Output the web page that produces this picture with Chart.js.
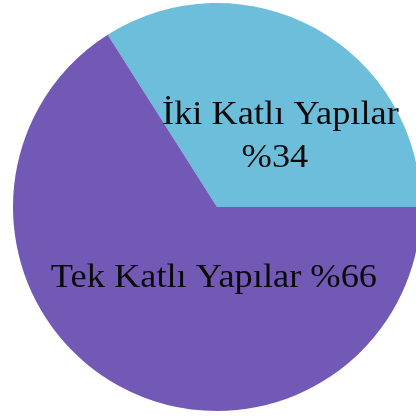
<!DOCTYPE html>
<html>
<head>
<meta charset="utf-8">
<script src="https://cdn.jsdelivr.net/npm/chart.js@4"></script>
<style>
    html, body { margin: 0; padding: 0; background: #fff; overflow: hidden; }
    #wrap { position: relative; width: 430px; height: 417px; }
</style>
</head>
<body>
<div id="wrap"><canvas id="chart"></canvas></div>
<script>
const labels = ['İki Katlı Yapılar', 'Tek Katlı Yapılar'];
const values = [34, 66];
const colors = ['#6cbedb', '#7159b5'];
// text lines per slice, drawn inside the pie
const sliceText = [['İki Katlı Yapılar', '%34'], ['Tek Katlı Yapılar %66']];

// label anchors relative to the pie centre, in units of the radius
const textSpots = [
    [[0.311, -0.407], [0.284, -0.196]],
    [[-0.015, 0.392]],
];

const sliceLabels = {
    id: 'sliceLabels',
    afterDatasetsDraw(chart) {
        const arc = chart.getDatasetMeta(0).data[0];
        const { x, y, outerRadius: r } = arc;
        const ctx = chart.ctx;
        const sx = 1.07; // reference text is a bit wider than Liberation Serif
        ctx.save();
        ctx.font = '34px "Liberation Serif", "Times New Roman", serif';
        ctx.fillStyle = '#0a0a0a';
        ctx.textAlign = 'center';
        ctx.textBaseline = 'alphabetic';
        sliceText.forEach((lines, i) => {
            lines.forEach((t, j) => {
                const [dx, dy] = textSpots[i][j];
                ctx.save();
                ctx.translate(x + dx * r, y + dy * r);
                ctx.scale(sx, 1);
                ctx.fillText(t, 0, 0);
                ctx.restore();
            });
        });
        ctx.restore();
    }
};

new Chart(document.getElementById('chart'), {
    type: 'pie',
    data: {
        labels,
        datasets: [{ data: values, backgroundColor: colors, borderWidth: 0 }],
    },
    options: {
        responsive: true,
        maintainAspectRatio: false,
        animation: false,
        rotation: -32.4,
        layout: { padding: { left: 13, right: 9, top: 3, bottom: 6 } },
        plugins: { legend: { display: false }, tooltip: { enabled: false } },
    },
    plugins: [sliceLabels],
});
</script>
</body>
</html>
